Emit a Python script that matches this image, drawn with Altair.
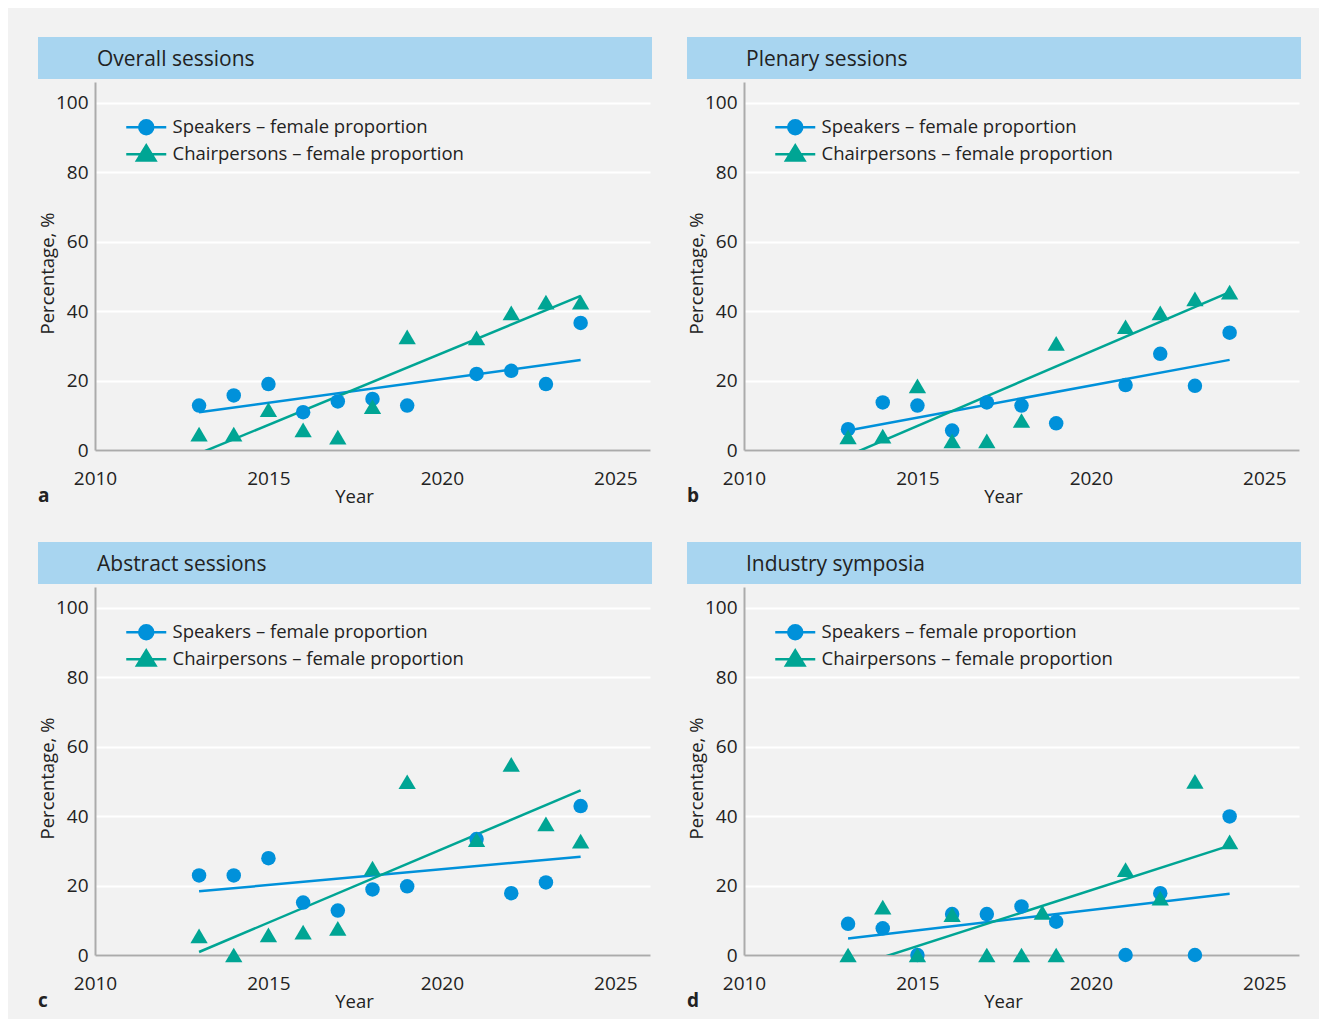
import altair as alt
import pandas as pd

# ---------------- data ----------------
years = [2013, 2014, 2015, 2016, 2017, 2018, 2019, 2021, 2022, 2023, 2024]

overall_speakers = [12.8, 15.7, 19.0, 10.9, 14.0, 14.7, 12.8, 21.9, 22.8, 19.0, 36.6]
overall_chairs = [4.6, 4.6, 11.6, 5.8, 3.7, 12.5, 32.6, 32.3, 39.5, 42.6, 42.6]

plenary_speakers = [6.0, 13.7, 12.8, 5.6, 13.7, 12.8, 7.7, 18.7, 27.7, 18.5, 33.8]
plenary_chairs = [3.8, 4.0, 18.5, 2.6, 2.6, 8.5, 30.7, 35.5, 39.5, 43.5, 45.5]

abstract_speakers = [22.9, 22.9, 27.9, 15.1, 12.8, 18.9, 19.8, 33.4, 17.8, 20.9, 42.9]
abstract_chairs = [5.5, 0.0, 5.8, 6.6, 7.7, 25.0, 49.9, 33.2, 54.9, 37.8, 32.8]

industry_speakers = [9.0, 7.7, 0.0, 11.8, 11.8, 14.0, 9.6, 0.0, 17.8, 0.0, 39.9]
industry_chair_years = [2013, 2014, 2015, 2016, 2017, 2018, 2018.6, 2019, 2021, 2022, 2023, 2024]
industry_chairs = [0.0, 13.8, 0.0, 11.6, 0.0, 0.0, 12.3, 0.0, 24.6, 16.4, 50.0, 32.6]

series_names = ["Speakers – female proportion", "Chairpersons – female proportion"]
panel_titles = ["Overall sessions", "Plenary sessions", "Abstract sessions", "Industry symposia"]
panel_letters = ["a", "b", "c", "d"]
x_ticks = [2010, 2015, 2020, 2025]
y_ticks = [0, 20, 40, 60, 80, 100]

# ---------------- style ----------------
BLUE = "#0091da"
TEAL = "#00a594"
BAR = "#a8d5f0"
BG = "#f2f2f2"
AXIS = "#ababab"
TXT = "#222222"
FONT = "Open Sans"
W, H = 555, 368

TRI = "M0,-0.85L1,0.85L-1,0.85Z"
LEG_CIRCLE = "M-4,0H4M1.4,0A1.4,1.4,0,1,1,-1.4,0A1.4,1.4,0,1,1,1.4,0Z"
LEG_TRI = "M-4,0H4M0,-1.75L1.85,1.27L-1.85,1.27Z"


def make_df(sp_years, sp_vals, ch_years, ch_vals):
    rows = [{"year": y, "value": v, "series": series_names[0]} for y, v in zip(sp_years, sp_vals)]
    rows += [{"year": y, "value": v, "series": series_names[1]} for y, v in zip(ch_years, ch_vals)]
    return pd.DataFrame(rows)


def panel(title, letter, df):
    one = pd.DataFrame({"k": [0]})
    xenc = alt.X(
        "year:Q",
        scale=alt.Scale(domain=[2010, 2026], nice=False, zero=False),
        axis=alt.Axis(
            values=x_ticks, format="d", title="Year", grid=False, ticks=False, tickSize=0,
            domainColor=AXIS, domainWidth=2, labelFontSize=19, labelPadding=34,
            labelBaseline="alphabetic", labelFlush=False, labelOverlap=False,
            titleX=259, titleY=52, titleBaseline="alphabetic", titleAlign="center",
            titleFontSize=18.5, titleFontWeight="normal",
        ),
    )
    yenc = alt.Y(
        "value:Q",
        scale=alt.Scale(domain=[0, 106], nice=False),
        axis=alt.Axis(
            values=y_ticks, title="Percentage, %", grid=True, gridColor="white", gridWidth=2,
            ticks=False, tickSize=0, domainColor=AXIS, domainWidth=2, labelFontSize=19,
            labelPadding=7, labelFlush=False, titleAngle=270, titleX=-42, titleY=191,
            titleBaseline="alphabetic", titleAlign="center", titleFontSize=18.5,
            titleFontWeight="normal",
        ),
    )
    base = alt.Chart(df)

    bar = alt.Chart(one).mark_rect(color=BAR).encode(
        x=alt.value(-57), x2=alt.value(557), y=alt.value(-45), y2=alt.value(-3)
    )
    ttl = alt.Chart(one).mark_text(
        text=title, align="left", baseline="alphabetic", fontSize=21, font=FONT, color=TXT
    ).encode(x=alt.value(2), y=alt.value(-16))
    let = alt.Chart(one).mark_text(
        text=letter, align="left", baseline="alphabetic", fontSize=19, fontWeight="bold",
        font=FONT, color=TXT
    ).encode(x=alt.value(-57), y=alt.value(420))

    line_sp = base.transform_filter(alt.datum.series == series_names[0]).transform_regression(
        "year", "value"
    ).mark_line(color=BLUE, strokeWidth=2.5, clip=True).encode(x=xenc, y=yenc)
    line_ch = base.transform_filter(alt.datum.series == series_names[1]).transform_regression(
        "year", "value"
    ).mark_line(color=TEAL, strokeWidth=2.5, clip=True).encode(x=xenc, y=yenc)

    pts_sp = base.transform_filter(alt.datum.series == series_names[0]).mark_point(
        shape="circle", filled=True, size=210, color=BLUE, opacity=1
    ).encode(x=xenc, y=yenc)
    pts_ch = base.transform_filter(alt.datum.series == series_names[1]).mark_point(
        shape=TRI, filled=True, size=300, color=TEAL, opacity=1
    ).encode(x=xenc, y=yenc)

    leg = alt.Legend(
        title=None, orient="none", legendX=42, legendY=36, padding=0,
        labelFontSize=18.5, labelFont=FONT, labelColor=TXT, labelOffset=17,
        symbolSize=100, symbolStrokeWidth=2.5, rowPadding=0, labelLimit=400,
    )
    legend_layer = base.transform_filter("false").mark_point(size=100, strokeWidth=2.5, opacity=1).encode(
        x=xenc, y=yenc,
        shape=alt.Shape("series:N", scale=alt.Scale(domain=series_names, range=[LEG_CIRCLE, LEG_TRI]), legend=leg),
        fill=alt.Fill("series:N", scale=alt.Scale(domain=series_names, range=[BLUE, TEAL]), legend=leg),
        stroke=alt.Stroke("series:N", scale=alt.Scale(domain=series_names, range=[BLUE, TEAL]), legend=leg),
    )

    return alt.layer(bar, ttl, let, line_sp, line_ch, pts_sp, pts_ch, legend_layer).properties(
        width=W, height=H
    )


dfs = [
    make_df(years, overall_speakers, years, overall_chairs),
    make_df(years, plenary_speakers, years, plenary_chairs),
    make_df(years, abstract_speakers, years, abstract_chairs),
    make_df(years, industry_speakers, industry_chair_years, industry_chairs),
]
panels = [panel(t, l, d) for t, l, d in zip(panel_titles, panel_letters, dfs)]

row1 = alt.hconcat(panels[0], panels[1], spacing=35).resolve_scale(
    shape="independent", fill="independent", stroke="independent"
)
row2 = alt.hconcat(panels[2], panels[3], spacing=35).resolve_scale(
    shape="independent", fill="independent", stroke="independent"
)
chart = alt.vconcat(row1, row2, spacing=36).resolve_scale(
    shape="independent", fill="independent", stroke="independent"
).properties(
    background=BG,
    padding={"left": 30, "top": 29, "right": 18, "bottom": 8},
).configure(font=FONT).configure_view(stroke=None).configure_axis(
    labelColor=TXT, titleColor=TXT, labelFont=FONT, titleFont=FONT
)

chart.save("out.html", embed_options={"renderer": "svg", "actions": False})
